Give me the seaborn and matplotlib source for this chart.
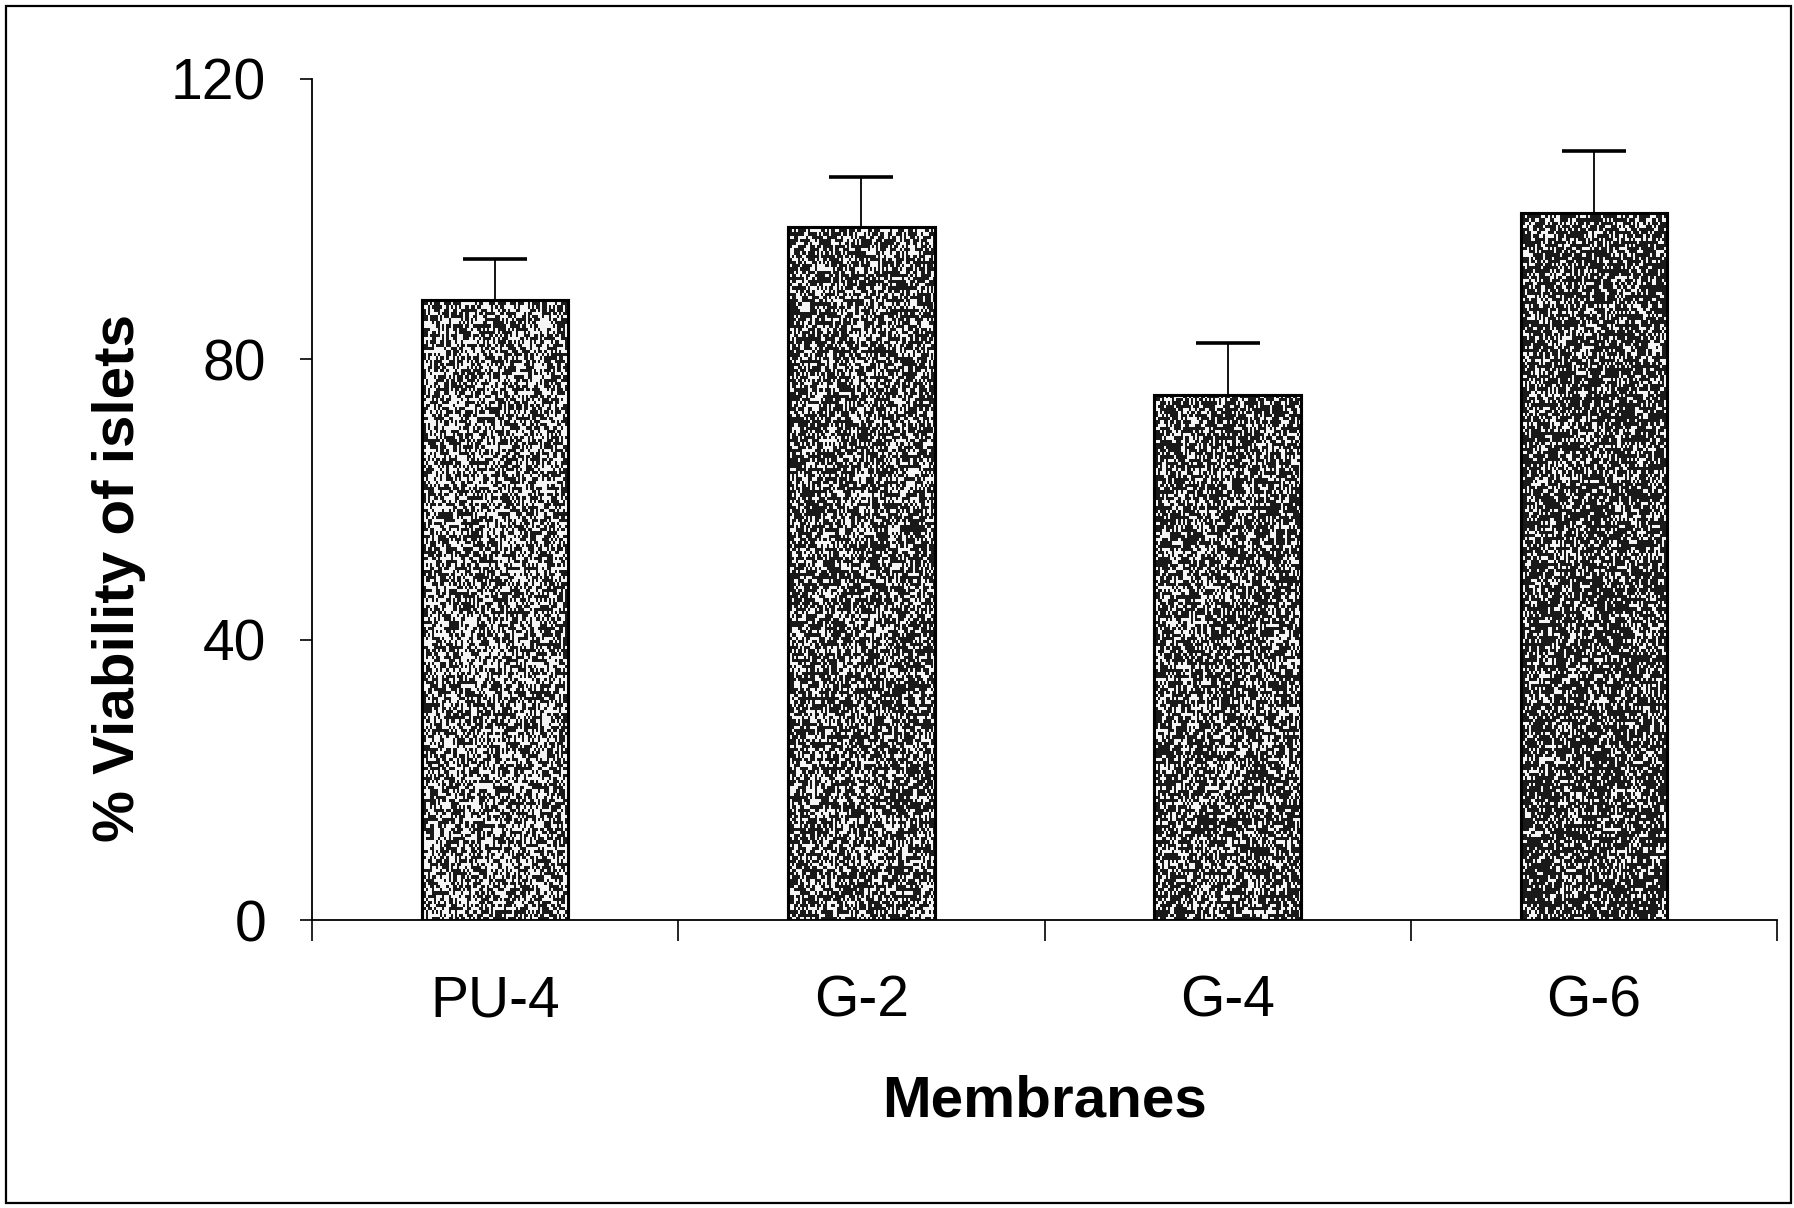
import numpy as np
import pandas as pd
import matplotlib
matplotlib.use("Agg")
import matplotlib.pyplot as plt
from matplotlib.patches import Rectangle
import seaborn as sns

# Islet viability on each membrane (mean and upper SD)
membranes = ["PU-4", "G-2", "G-4", "G-6"]
viability = [88.5, 98.9, 74.9, 100.9]
viability_sd = [5.8, 7.1, 7.5, 8.8]
y_ticks = [0, 40, 80, 120]

# speckle density of each bar's stipple fill (fraction of dark dots)
stipple_density = [0.52, 0.62, 0.64, 0.70]
bar_greys = ["#8c8c8c", "#747474", "#707070", "#5e5e5e"]

sns.set_style("white")
plt.rcParams["font.family"] = ["Liberation Sans", "DejaVu Sans"]
plt.rcParams["text.color"] = "black"
plt.rcParams["axes.labelcolor"] = "black"
plt.rcParams["xtick.color"] = "black"
plt.rcParams["ytick.color"] = "black"

W, H = 1794, 1208
fig = plt.figure(figsize=(W / 100, H / 100), dpi=100)
ax = fig.add_axes([312 / W, 1 - 920 / H, (1777 - 312) / W, (920 - 79) / H])

df = pd.DataFrame({"membrane": membranes, "viability": viability})
sns.barplot(data=df, x="membrane", y="viability", hue="membrane",
            palette=bar_greys, width=0.4, edgecolor="black", linewidth=2.2,
            errorbar=None, legend=False, ax=ax)

# stippled fill clipped to each bar, with short vertical grain
rng = np.random.default_rng(11)
for patch, dens in zip(ax.patches, stipple_density):
    x0, y0 = patch.get_x(), patch.get_y()
    w, h = patch.get_width(), patch.get_height()
    rows = int(h * 2.2) + 1
    cols = 72
    noise = rng.random((rows, cols))
    tex = np.where(noise < dens, 0.1, 0.96)
    im = ax.imshow(tex, cmap="gray", vmin=0, vmax=1, aspect="auto",
                   extent=(x0, x0 + w, y0, y0 + h), interpolation="nearest",
                   zorder=patch.get_zorder() + 0.1)
    im.set_clip_path(patch)
    outline = Rectangle((x0, y0), w, h, fill=False, edgecolor="black",
                        linewidth=2.2, zorder=patch.get_zorder() + 0.2)
    ax.add_patch(outline)

# upper error bars only
xpos = np.arange(len(membranes))
eb = ax.errorbar(xpos, viability, yerr=[np.zeros(len(membranes)), viability_sd],
                 fmt="none", ecolor="black", elinewidth=1.3, capsize=23,
                 capthick=2.6, zorder=5)
eb.lines[1][0].set_visible(False)

ax.set_xlim(-0.5, len(membranes) - 0.5)
ax.set_ylim(0, 120)
ax.set_yticks(y_ticks)
ax.set_yticklabels([str(t) for t in y_ticks], fontsize=41, color="black")

# category ticks at the boundaries, labels centred under the bars
ax.set_xticks(np.arange(-0.5, len(membranes), 1.0))
ax.set_xticklabels([])
ax.set_xticks(xpos, minor=True)
ax.set_xticklabels(membranes, minor=True, fontsize=41, color="black")
ax.tick_params(axis="x", which="major", direction="out", length=15,
               width=1.2, color="black", bottom=True)
ax.tick_params(axis="x", which="minor", length=0, pad=39)
ax.tick_params(axis="y", direction="out", length=9, width=1.2,
               color="black", pad=24, left=True)

for side in ("top", "right"):
    ax.spines[side].set_visible(False)
for side in ("left", "bottom"):
    ax.spines[side].set_color("black")
    ax.spines[side].set_linewidth(1.3)

ax.set_xlabel("Membranes", fontsize=42, fontweight="bold", va="center",
              color="black")
ax.xaxis.set_label_coords(0.5, -0.216)
ax.set_ylabel("% Viability of islets", fontsize=42, fontweight="bold",
              va="center", color="black")
ax.yaxis.set_label_coords(-0.132, 0.407)

# outer frame round the figure
fig.add_artist(Rectangle((6 / W, 5 / H), (1791 - 6) / W, (1202 - 5) / H,
                         transform=fig.transFigure, fill=False,
                         edgecolor="black", linewidth=1.6))

fig.savefig("out.png", dpi=100)
